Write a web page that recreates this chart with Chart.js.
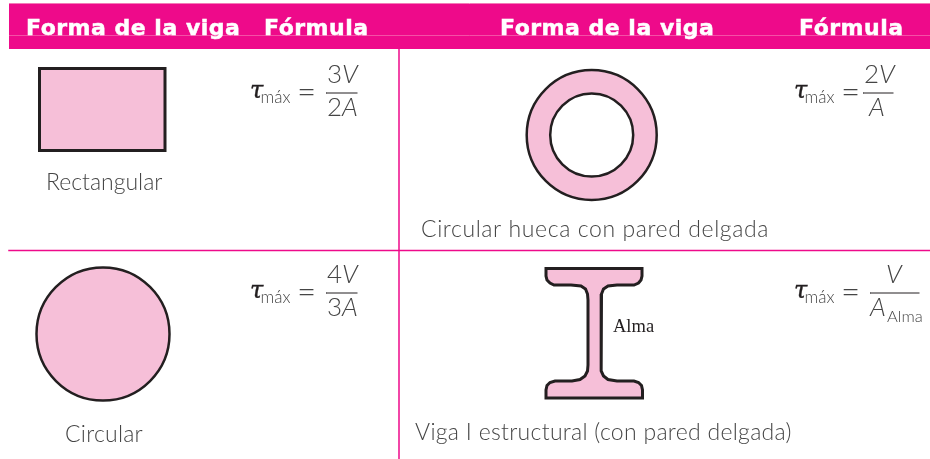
<!DOCTYPE html>
<html>
<head>
<meta charset="utf-8">
<style>
  html, body { margin: 0; padding: 0; background: #fff; }
  canvas { display: block; }
</style>
<script src="https://cdn.jsdelivr.net/npm/chart.js@4"></script>
</head>
<body>
<canvas id="chart" width="930" height="459"></canvas>
<script>
const PINK = "#ee0a8a";
const SHAPE = "#f6bfd8";
const INK = "#231f20";
const TEXT = "#454545";

// table rules and band, in picture units
const bandX = [9, 930, 930, 9, 9];
const bandY = [4, 4, 49, 49, 4];
const ruleMidX = [9, 930];
const ruleMidY = [250.5, 250.5];
const ruleVertX = [399, 399];
const ruleVertY = [49, 459];
const bandLineTopY = [3.5, 3.5];
const bandLineMidY = [35.5, 35.5];

// shapes
const rectX = [39.5, 165, 165, 39.5, 39.5];
const rectY = [68.5, 68.5, 150.5, 150.5, 68.5];
const circleX = [103];
const circleY = [334];
const ringX = [591.7];
const ringY = [135];
const beamX = [546, 642, 642, 641, 638.5, 634, 617, 608, 603.5, 601.5, 601, 601, 601.5, 603.5, 608, 617, 634, 638.5, 641.5, 642.5, 642.5, 546, 546, 547, 550, 555, 572, 580, 585, 587.5, 588, 588, 587.5, 585.5, 581, 571, 554, 550, 547, 546, 546];
const beamY = [268.5, 268.5, 276, 280, 283, 285, 285, 286, 289, 294, 300, 365, 371, 376, 379.5, 381, 381, 382.5, 385.5, 390, 398, 398, 390, 385.5, 382.5, 381, 381, 379.5, 376, 371, 365, 300, 294, 289, 286, 285, 285, 283, 280, 276, 268.5];

// fraction bars
const fractionBarX = [[326, 357], [863, 893], [326, 357], [870, 919]];
const fractionBarY = [93, 93, 293, 293];

// labels
const headerText = ["Forma de la viga", "Fórmula", "Forma de la viga", "Fórmula"];
const headerX = [26, 264, 500, 799];
const headerY = [35, 35, 35, 35];
const captionText = ["Rectangular", "Circular hueca con pared delgada", "Circular", "Viga I estructural (con pared delgada)"];
const captionX = [46, 421, 65, 415];
const captionY = [190, 237, 442, 440];
const captionSpacing = [0, 0.6, 0.25, 0.3];
const tauX = [250, 794, 250, 794];
const tauY = [103, 103, 303, 303];
const maxX = [260.5, 804.5, 260.5, 804.5];
const equalsX = [297, 841, 297, 841];
const numText = ["3", "2", "4", ""];
const numX = [327, 864, 327, 0];
const numY = [83, 83, 283, 283];
const numVX = [342, 879, 342, 886];
const denText = ["2A", "A", "3A", "A"];
const denX = [327, 869, 327, 870];
const denY = [116, 116, 316, 316];

function pts(xs, ys) { return xs.map((x, i) => ({ x: x, y: ys[i] })); }

function outline(xs, ys, color, fill, width) {
  return {
    type: "scatter", showLine: true, data: pts(xs, ys),
    borderColor: color, borderWidth: width, backgroundColor: fill,
    borderCapStyle: "square", borderJoinStyle: "miter",
    fill: fill ? "shape" : false, tension: 0, pointRadius: 0
  };
}

function disc(xs, ys, r, fill) {
  return {
    type: "scatter", data: pts(xs, ys), pointRadius: r, pointHoverRadius: r,
    backgroundColor: fill, borderColor: INK, pointBorderWidth: 2.5
  };
}

const datasets = [
  outline(bandX, bandY, PINK, PINK, 0),
  outline([9, 930], bandLineTopY, "#f47ab8", null, 1),
  outline([9, 930], bandLineMidY, "#f450a6", null, 1),
  outline(ruleMidX, ruleMidY, PINK, null, 1.5),
  outline(ruleVertX, ruleVertY, PINK, null, 1.5),
  outline(rectX, rectY, INK, SHAPE, 3),
  disc(circleX, circleY, 66.5, SHAPE),
  disc(ringX, ringY, 65, SHAPE),
  disc(ringX, ringY, 41.5, "#ffffff"),
  outline(beamX, beamY, INK, SHAPE, 3),
];
fractionBarX.forEach((xs, i) => {
  datasets.push(outline(xs, [fractionBarY[i], fractionBarY[i]], INK, null, 1));
});
// chart.js paints the first dataset last
datasets.reverse();

const labelPlugin = {
  id: "labels",
  afterDatasetsDraw(chart) {
    const ctx = chart.ctx;
    const sx = chart.scales.x, sy = chart.scales.y;
    function put(text, x, y, font, color, spacing, stroke) {
      ctx.font = font;
      ctx.fillStyle = color;
      ctx.letterSpacing = (spacing || 0) + "px";
      ctx.textBaseline = "alphabetic";
      ctx.fillText(text, sx.getPixelForValue(x), sy.getPixelForValue(y));
      if (stroke) {
        ctx.strokeStyle = color;
        ctx.lineWidth = stroke;
        ctx.strokeText(text, sx.getPixelForValue(x), sy.getPixelForValue(y));
      }
    }
    headerText.forEach((t, i) => put(t, headerX[i], headerY[i], 'bold 22px "DejaVu Sans"', "#ffffff", 0.5, 0.5));
    captionText.forEach((t, i) => put(t, captionX[i], captionY[i], '300 23px Lato', TEXT, captionSpacing[i]));
    tauX.forEach((x, i) => {
      put("τ", x, tauY[i] - 5, 'italic 24px "DejaVu Serif"', INK, 0, 0.4);
      put("máx", maxX[i], tauY[i], '300 17px Lato', TEXT);
      put("=", equalsX[i], tauY[i], '300 33px Lato', TEXT);
      if (numText[i]) put(numText[i], numX[i], numY[i], '300 26px Lato', TEXT);
      put("V", numVX[i], numY[i], 'italic 300 26px Lato', TEXT);
      put(denText[i].replace("A", ""), denX[i], denY[i], '300 26px Lato', TEXT);
      const off = denText[i].length > 1 ? 15 : 0;
      put("A", denX[i] + off, denY[i], 'italic 300 26px Lato', TEXT);
    });
    put("Alma", 887, 322, '300 16.5px Lato', TEXT);
    put("Alma", 613, 332, '18.5px "Liberation Serif"', INK);
  }
};

new Chart(document.getElementById("chart"), {
  data: { datasets: datasets },
  plugins: [labelPlugin],
  options: {
    responsive: false,
    animation: false,
    events: [],
    layout: { padding: 0, autoPadding: false },
    plugins: { legend: { display: false }, tooltip: { enabled: false } },
    scales: {
      x: { type: "linear", display: false, min: 0, max: 930 },
      y: { type: "linear", display: false, min: 0, max: 459, reverse: true }
    }
  }
});
</script>
</body>
</html>
